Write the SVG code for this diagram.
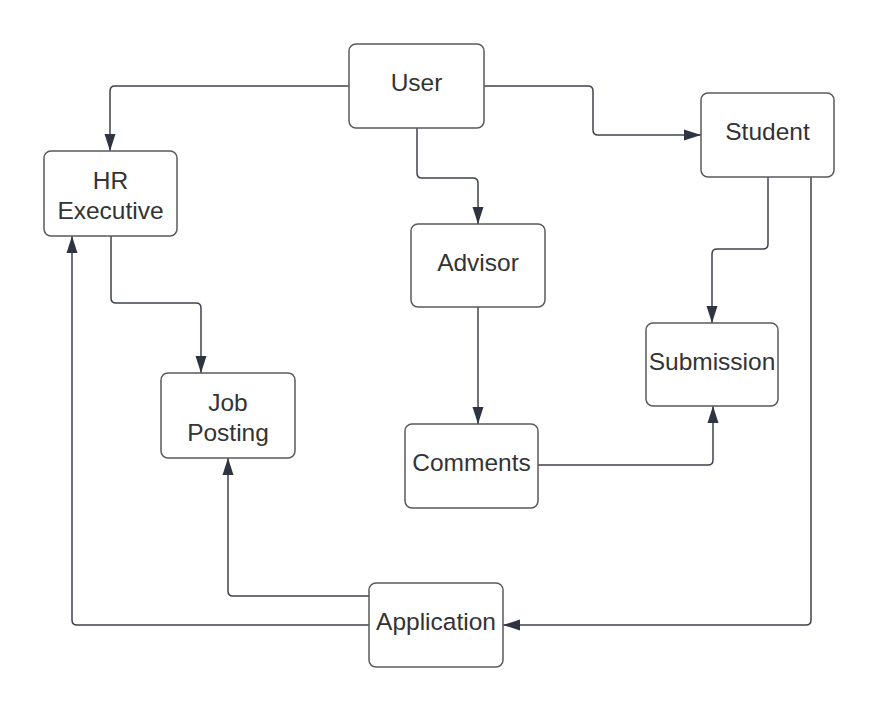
<svg xmlns="http://www.w3.org/2000/svg" width="880" height="711" viewBox="0 0 880 711">
<style>
.box{fill:#fff;stroke:#5a5a5a;stroke-width:1.5}
.lbl{font-family:"Liberation Sans",Arial,sans-serif;font-size:24.5px;fill:#333;text-anchor:middle}
.edge{fill:none;stroke:#3f444c;stroke-width:1.5}
</style>
<defs>
<marker id="arr" markerUnits="userSpaceOnUse" markerWidth="17" markerHeight="12" refX="17" refY="6" orient="auto">
<path d="M0,0.5 L17,6 L0,11.5 z" fill="#2e3440"/>
</marker>
</defs>
<rect width="880" height="711" fill="#fff"/>
<g id="connectors">
<path class="edge" marker-end="url(#arr)" d="M349,86 H115 Q110,86 110,91 V151"/>
<path class="edge" marker-end="url(#arr)" d="M484,86 H588 Q593,86 593,91 V130 Q593,135 598,135 H701"/>
<path class="edge" marker-end="url(#arr)" d="M417,128 V173 Q417,178 422,178 H473 Q478,178 478,183 V224"/>
<path class="edge" marker-end="url(#arr)" d="M111,236 V298 Q111,303 116,303 H196 Q201,303 201,308 V373"/>
<path class="edge" marker-end="url(#arr)" d="M478,307 V424"/>
<path class="edge" marker-end="url(#arr)" d="M538,465 H708 Q713,465 713,460 V406"/>
<path class="edge" marker-end="url(#arr)" d="M768,177 V244 Q768,249 763,249 H717 Q712,249 712,254 V323"/>
<path class="edge" marker-end="url(#arr)" d="M811,177 V620 Q811,625 806,625 H503"/>
<path class="edge" marker-end="url(#arr)" d="M369,596 H233 Q228,596 228,591 V458"/>
<path class="edge" marker-end="url(#arr)" d="M369,625 H77 Q72,625 72,620 V236"/>
</g>
<g id="user"><rect class="box" x="349" y="44" width="135" height="84" rx="7"/><text class="lbl" x="416.5" y="91">User</text></g>
<g id="hr-executive"><rect class="box" x="44" y="151" width="133" height="85" rx="7"/><text class="lbl" x="110.5" y="189">HR</text><text class="lbl" x="110.5" y="219">Executive</text></g>
<g id="student"><rect class="box" x="701" y="93" width="133" height="84" rx="7"/><text class="lbl" x="767.5" y="140">Student</text></g>
<g id="advisor"><rect class="box" x="411" y="224" width="134" height="83" rx="7"/><text class="lbl" x="478" y="271">Advisor</text></g>
<g id="submission"><rect class="box" x="646" y="323" width="132" height="83" rx="7"/><text class="lbl" x="712" y="370">Submission</text></g>
<g id="job-posting"><rect class="box" x="161" y="373" width="134" height="85" rx="7"/><text class="lbl" x="228" y="411">Job</text><text class="lbl" x="228" y="441">Posting</text></g>
<g id="comments"><rect class="box" x="405" y="424" width="133" height="84" rx="7"/><text class="lbl" x="471.5" y="471">Comments</text></g>
<g id="application"><rect class="box" x="369" y="583" width="134" height="84" rx="7"/><text class="lbl" x="436" y="630">Application</text></g>
</svg>
